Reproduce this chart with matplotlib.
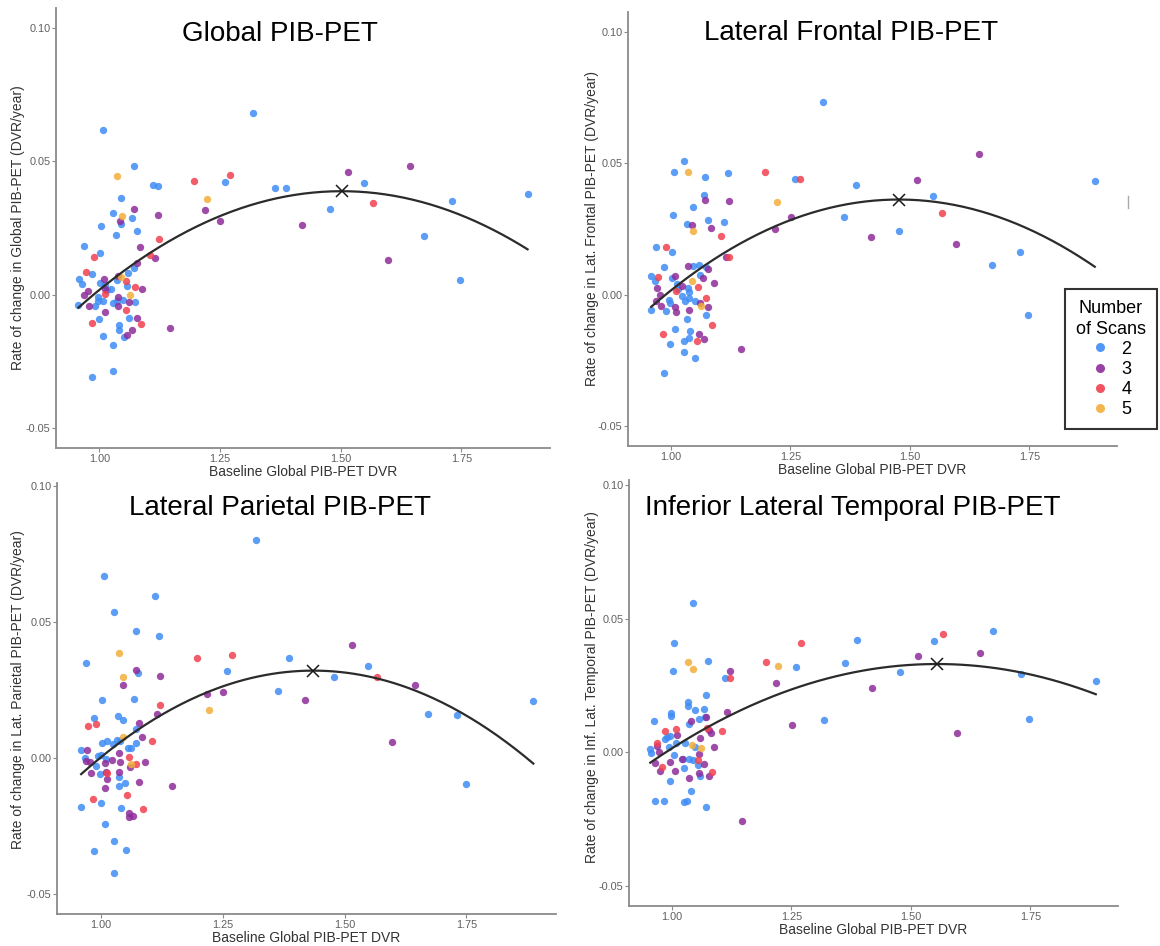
import numpy as np
import matplotlib
matplotlib.use("Agg")
import matplotlib.pyplot as plt
from matplotlib.lines import Line2D

plt.rcParams["font.family"] = ["Liberation Sans", "DejaVu Sans"]

# %% data: (baseline global DVR, rate of change) per number of scans
global_2 = [(1.008, 0.0616), (1.318, 0.0680), (1.073, 0.0484), (1.112, 0.0413), (1.121, 0.0406),
            (1.260, 0.0423), (1.363, 0.0401), (1.387, 0.0400), (1.548, 0.0420), (1.478, 0.0320),
            (1.730, 0.0351), (1.887, 0.0376), (1.672, 0.0221), (1.748, 0.0056), (1.046, 0.0363),
            (1.028, 0.0305), (1.046, 0.0264), (1.068, 0.0288), (1.078, 0.0239), (1.035, 0.0225),
            (1.004, 0.0258), (0.969, 0.0183), (1.002, 0.0158), (0.986, 0.0078), (0.958, 0.0059),
            (0.965, 0.0040), (1.002, 0.0044), (1.013, 0.0036), (1.037, 0.0055), (1.059, 0.0080),
            (1.071, 0.0101), (1.058, 0.0031), (1.025, 0.0021), (0.998, -0.0010), (0.998, -0.0022),
            (0.957, -0.0039), (0.991, -0.0044), (1.028, -0.0030), (1.036, -0.0022), (1.050, -0.0020),
            (1.074, -0.0028), (0.999, -0.0091), (1.062, -0.0086), (1.008, -0.0156), (1.040, -0.0112),
            (1.041, -0.0134), (1.051, -0.0158), (1.028, -0.0189), (0.986, -0.0308), (1.029, -0.0286),
            (1.008, -0.0022), (1.017, 0.0018)]
global_3 = [(1.515, 0.0461), (1.644, 0.0484), (1.419, 0.0263), (1.597, 0.0129), (1.2185, 0.0318),
            (1.251, 0.0278), (1.073, 0.0320), (1.122, 0.0300), (1.044, 0.0276), (1.085, 0.0178),
            (1.115, 0.0138), (1.079, 0.0118), (1.146, -0.0126), (1.009, 0.0059), (0.977, 0.0015),
            (0.969, 0.0000), (1.013, 0.0021), (1.038, -0.0010), (0.978, -0.0041), (1.011, -0.0066),
            (1.039, -0.0041), (1.062, -0.0029), (1.089, 0.0022), (1.078, -0.0088), (1.068, -0.0134),
            (1.058, -0.0153), (1.039, 0.0071)]
global_4 = [(1.197, 0.0428), (1.270, 0.0448), (1.567, 0.0344), (1.123, 0.0208), (1.105, 0.0148),
            (0.989, 0.0143), (0.973, 0.0084), (1.011, 0.0003), (1.056, 0.0050), (1.074, 0.0029),
            (1.056, -0.0057), (0.985, -0.0105), (1.086, -0.0109)]
global_5 = [(1.037, 0.0444), (1.223, 0.0359), (1.047, 0.0295), (1.045, 0.0065), (1.063, -0.0001)]

frontal_2 = [(1.318, 0.0732), (1.027, 0.0509), (1.007, 0.0467), (1.072, 0.0447), (1.120, 0.0463),
             (1.260, 0.0440), (1.387, 0.0419), (1.548, 0.0375), (1.887, 0.0433), (1.363, 0.0295),
             (1.478, 0.0244), (1.730, 0.0163), (1.672, 0.0112), (1.748, -0.0076), (1.069, 0.0379),
             (1.046, 0.0333), (1.005, 0.0304), (1.078, 0.0286), (1.112, 0.0275), (1.033, 0.0269),
             (0.969, 0.0180), (1.002, 0.0164), (0.986, 0.0105), (0.959, 0.0073), (0.966, 0.0052),
             (1.003, 0.0062), (1.012, 0.0042), (1.047, 0.0110), (1.060, 0.0114), (1.062, 0.0077),
             (1.073, 0.0107), (1.0225, -0.0003), (1.038, 0.0010), (0.997, -0.0019), (0.999, -0.0032),
             (1.029, -0.0023), (1.038, -0.0013), (1.050, -0.0023), (0.959, -0.0057), (0.991, -0.0061),
             (1.074, -0.0077), (1.034, -0.0093), (1.0085, -0.0129), (1.040, -0.0136), (0.999, -0.0186),
             (1.027, -0.0177), (1.039, -0.0164), (1.027, -0.0218), (1.050, -0.0242), (0.986, -0.0297),
             (1.036, 0.0025), (1.016, 0.0021)]
frontal_3 = [(1.644, 0.0535), (1.515, 0.0435), (1.419, 0.0218), (1.597, 0.0192), (1.251, 0.0297),
             (1.2185, 0.0249), (1.072, 0.0362), (1.122, 0.0357), (1.044, 0.0266), (1.084, 0.0255),
             (1.116, 0.0144), (1.078, 0.0098), (1.037, 0.0110), (1.0085, 0.0071), (1.0225, 0.0033),
             (1.090, 0.0043), (1.067, 0.0062), (0.971, 0.0024), (0.977, 0.0000), (0.969, -0.0025),
             (0.979, -0.0044), (1.009, -0.0047), (1.0105, -0.0067), (1.038, -0.0059), (1.061, -0.0033),
             (1.078, -0.0047), (1.146, -0.0206), (1.059, -0.0149), (1.069, -0.0168)]
frontal_4 = [(1.197, 0.0466), (1.270, 0.0439), (1.567, 0.0310), (1.1055, 0.0223), (1.122, 0.0143),
             (0.990, 0.0180), (0.973, 0.0068), (1.010, 0.0013), (1.057, 0.0028), (1.074, -0.0013),
             (1.087, -0.0114), (0.984, -0.0150), (1.055, -0.0177)]
frontal_5 = [(1.036, 0.0466), (1.223, 0.0351), (1.0466, 0.0241), (1.045, 0.0052), (1.063, -0.0042)]

parietal_2 = [(1.318, 0.0801), (1.0075, 0.0668), (1.1115, 0.0595), (1.028, 0.0537), (1.073, 0.0464),
              (1.120, 0.0447), (0.970, 0.0349), (1.387, 0.0365), (1.260, 0.0317), (1.077, 0.0310),
              (1.548, 0.0338), (1.478, 0.0295), (1.363, 0.0246), (1.069, 0.0216), (1.003, 0.0213),
              (1.887, 0.0208), (1.672, 0.0162), (1.730, 0.0157), (1.748, -0.0097), (0.987, 0.0147),
              (1.036, 0.0152), (1.046, 0.0138), (1.073, 0.0104), (0.960, 0.0027), (0.967, -0.0001),
              (1.002, 0.0053), (1.013, 0.0061), (1.025, 0.0051), (1.033, 0.0065), (1.039, 0.0061),
              (1.056, 0.0037), (1.063, 0.0037), (1.073, 0.0055), (0.994, 0.0006), (1.000, 0.0009),
              (1.010, -0.0006), (0.991, -0.0031), (0.999, -0.0061), (1.037, -0.0071), (1.050, -0.0092),
              (1.037, -0.0105), (0.960, -0.0181), (1.000, -0.0168), (1.041, -0.0185), (1.008, -0.0244),
              (1.028, -0.0307), (1.051, -0.0338), (0.9865, -0.0343), (1.028, -0.0425)]
parietal_3 = [(1.515, 0.0415), (1.644, 0.0267), (1.419, 0.0212), (1.597, 0.0056), (1.2185, 0.0235),
              (1.251, 0.0240), (1.146, -0.0104), (1.072, 0.0321), (1.121, 0.0300), (1.045, 0.0267),
              (1.116, 0.0162), (1.0785, 0.0129), (1.084, 0.0076), (0.972, 0.0027), (0.969, -0.0013),
              (0.978, -0.0015), (0.9795, -0.0055), (1.0097, -0.0018), (1.023, -0.0010), (1.040, -0.0015),
              (1.038, 0.0017), (1.011, -0.0051), (1.0127, -0.0080), (1.0097, -0.0110), (1.037, -0.0053),
              (1.061, -0.0036), (1.090, -0.0016), (1.0785, -0.0088), (1.0576, -0.0202), (1.0576, -0.0217),
              (1.067, -0.0214)]
parietal_4 = [(1.197, 0.0368), (1.270, 0.0376), (1.567, 0.0298), (1.122, 0.0194), (1.1055, 0.0061),
              (0.974, 0.0116), (0.9895, 0.0125), (1.012, -0.0058), (1.0576, 0.0002), (1.073, -0.0025),
              (1.0546, -0.0138), (0.985, -0.0151), (1.086, -0.0189)]
parietal_5 = [(1.0367, 0.0386), (1.223, 0.0176), (1.046, 0.0298), (1.0456, 0.0076), (1.063, -0.0025)]

temporal_2 = [(1.0446, 0.0560), (1.004, 0.0409), (1.0016, 0.0303), (1.0766, 0.0342), (1.387, 0.0421),
              (1.548, 0.0418), (1.672, 0.0454), (1.363, 0.0333), (1.260, 0.0321), (1.478, 0.0301),
              (1.730, 0.0292), (1.887, 0.0266), (1.318, 0.0121), (1.748, 0.0125), (1.111, 0.0280),
              (1.071, 0.0216), (1.0336, 0.0187), (1.0336, 0.0175), (1.048, 0.0157), (1.068, 0.0162),
              (0.998, 0.0146), (0.998, 0.0137), (0.962, 0.0119), (1.057, 0.0127), (1.070, 0.0134),
              (1.035, 0.0106), (0.985, 0.0052), (0.991, 0.0059), (0.997, 0.0062), (1.008, 0.0035),
              (0.995, 0.0022), (1.027, 0.0035), (0.955, 0.0012), (0.956, -0.0004), (1.005, -0.0009),
              (1.024, -0.0026), (1.035, -0.0025), (1.045, -0.0027), (1.049, 0.0021), (1.0266, -0.0060),
              (1.055, -0.0046), (1.059, -0.0087), (0.996, -0.0106), (1.040, -0.0144), (0.9656, -0.0181),
              (0.983, -0.0181), (1.025, -0.0187), (1.032, -0.0181), (1.072, -0.0203)]
temporal_3 = [(1.515, 0.0361), (1.644, 0.0373), (1.419, 0.0242), (1.597, 0.0074), (1.2185, 0.0261),
              (1.251, 0.0101), (1.146, -0.0255), (1.121, 0.0305), (1.116, 0.0150), (1.041, 0.0116),
              (1.071, 0.0132), (1.010, 0.0066), (1.060, 0.0055), (1.083, 0.0072), (1.078, 0.0085),
              (1.089, 0.0022), (0.9695, 0.0025), (0.974, 0.0002), (0.965, -0.0041), (0.976, -0.0070),
              (0.996, -0.0037), (1.007, -0.0069), (1.036, -0.0094), (1.057, -0.0077), (1.0665, -0.0044),
              (1.077, -0.0090), (1.057, -0.0006), (1.021, -0.0025)]
temporal_4 = [(1.197, 0.0340), (1.270, 0.0410), (1.567, 0.0444), (1.122, 0.0280), (1.1056, 0.0081),
              (0.986, 0.0081), (1.008, 0.0089), (0.9695, 0.0035), (0.979, -0.0056), (1.054, -0.0027),
              (1.073, 0.0090), (1.085, -0.0072)]
temporal_5 = [(1.034, 0.0340), (1.0446, 0.0312), (1.223, 0.0324), (1.043, 0.0027), (1.061, 0.0015)]

# quadratic fit, vertex form: (vertex x, vertex y, curvature)
fits = {"global": (1.502, 0.0388, -0.147), "frontal": (1.477, 0.0362, -0.152),
        "parietal": (1.436, 0.0320, -0.168), "temporal": (1.555, 0.0331, -0.1026)}

titles = ["Global PIB-PET", "Lateral Frontal PIB-PET",
          "Lateral Parietal PIB-PET", "Inferior Lateral Temporal PIB-PET"]
ylabels = ["Rate of change in Global PIB-PET (DVR/year)",
           "Rate of change in Lat. Frontal PIB-PET (DVR/year)",
           "Rate of change in Lat. Parietal PIB-PET (DVR/year)",
           "Rate of change in Inf. Lat. Temporal PIB-PET (DVR/year)"]
scan_counts = ["2", "3", "4", "5"]
scan_colors = ["#3f8cf5", "#8e2c9a", "#f0404f", "#f2ae3a"]

panels = [("global", [global_2, global_3, global_4, global_5]),
          ("frontal", [frontal_2, frontal_3, frontal_4, frontal_5]),
          ("parietal", [parietal_2, parietal_3, parietal_4, parietal_5]),
          ("temporal", [temporal_2, temporal_3, temporal_4, temporal_5])]

# %% layout in pixels (left, right, top, bottom), top y limit, title position, label positions
W, H = 1160, 946
boxes = [(56, 550, 8, 448), (628, 1117, 12, 446), (57, 556, 483, 914), (629, 1118, 480, 906)]
ytops = [0.1075, 0.1075, 0.101, 0.102]
title_pos = [(0.453, 0.942), (0.456, 0.951), (0.446, 0.943), (0.458, 0.935)]
ylab_pos = [(-0.077, 0.5), (-0.074, 0.5), (-0.078, 0.52), (-0.076, 0.515)]

fig = plt.figure(figsize=(W / 100, H / 100), dpi=100)
axis_grey = "#8a8a8a"

for i, (key, groups) in enumerate(panels):
    l, r, t, b = boxes[i]
    ax = fig.add_axes([l / W, 1 - b / H, (r - l) / W, (b - t) / H])
    allx = []
    for pts, col in zip(groups, scan_colors):
        arr = np.array(pts)
        allx.extend(arr[:, 0])
        ax.scatter(arr[:, 0], arr[:, 1], s=28, color=col, alpha=0.85, linewidths=0, zorder=2)
    hx, hy, a = fits[key]
    xs = np.linspace(min(allx), max(allx), 200)
    ax.plot(xs, a * (xs - hx) ** 2 + hy, color="#2b2b2b", lw=1.6, zorder=3)
    ax.plot([hx], [hy], marker="x", color="#1a1a1a", markersize=9, mew=1.1, zorder=4)

    ax.set_xlim(0.9105, 1.9335)
    ax.set_ylim(-0.0575, ytops[i])
    ax.set_xticks([1.0, 1.25, 1.5, 1.75], ["1.00", "1.25", "1.50", "1.75"])
    ax.set_yticks([-0.05, 0.0, 0.05, 0.10], ["-0.05", "0.00", "0.05", "0.10"])
    for side in ["top", "right"]:
        ax.spines[side].set_visible(False)
    for side in ["left", "bottom"]:
        ax.spines[side].set_color(axis_grey)
        ax.spines[side].set_linewidth(1.3)
    ax.tick_params(length=3, width=0.8, color=axis_grey, pad=1, labelsize=7.8, labelcolor="#5f5f5f")

    ax.set_xlabel("Baseline Global PIB-PET DVR", fontsize=10, color="#333333")
    ax.xaxis.set_label_coords(0.5, -23.5 / (b - t))
    ax.xaxis.label.set_va("center")
    ax.set_ylabel(ylabels[i], fontsize=10, color="#333333")
    ax.yaxis.set_label_coords(*ylab_pos[i])
    ax.yaxis.label.set_va("center")
    ax.text(title_pos[i][0], title_pos[i][1], titles[i], transform=ax.transAxes,
            ha="center", va="center", fontsize=20, color="black")

# %% legend
handles = [Line2D([], [], marker="o", ls="", markersize=6.5, color=c, alpha=0.9, mew=0) for c in scan_colors]
leg = fig.legend(handles, scan_counts, title="Number\nof Scans", loc="upper left",
                 bbox_to_anchor=(1065 / W, 1 - 289 / H), bbox_transform=fig.transFigure,
                 borderaxespad=0, frameon=True, fancybox=False, edgecolor="black",
                 fontsize=13, title_fontsize=13, handletextpad=0.7, labelspacing=0.17,
                 borderpad=0.6, handlelength=1.0)
leg.get_frame().set_linewidth(1.5)
leg.get_title().set_multialignment("center")
leg.get_title().set_linespacing(1.3)

# small stray mark at the right edge of the top-right panel
fig.add_artist(Line2D([1128 / W, 1128 / W], [1 - 196 / H, 1 - 208 / H], color="#aaaaaa", lw=1))

fig.savefig("out.png", dpi=100)
